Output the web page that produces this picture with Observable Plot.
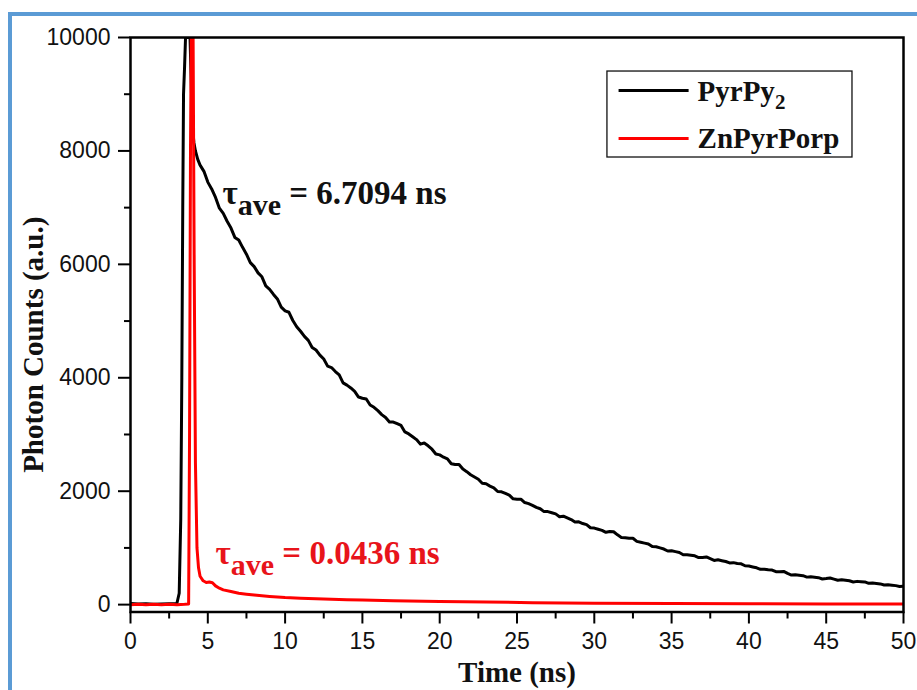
<!DOCTYPE html>
<html><head><meta charset="utf-8">
<script src="https://cdn.jsdelivr.net/npm/d3@7"></script>
<script src="https://cdn.jsdelivr.net/npm/@observablehq/plot@0.6"></script>
<style>
body{margin:0;background:#fff;}
#wrap{position:relative;width:917px;height:690px;overflow:hidden;}
#border{position:absolute;left:8px;top:12px;width:2000px;height:2000px;border-top:4px solid #5b9bd5;border-left:4px solid #5b9bd5;pointer-events:none;z-index:2;}
</style></head><body><div id="wrap"></div>
<script>
// ---- data ----
const seriesNames = ["PyrPy_{2}", "ZnPyrPorp"];
const seriesColors = ["#000000", "#ff0000"];

const timePyrPy2 = [0,0.5,1,1.5,2,2.5,3,3.15,3.25,3.32,3.38,3.43,3.5,3.56,3.7,3.85,3.92,3.97,4.02,4.1,4.2,4.35,4.5,4.75,
5,5.25,5.5,5.75,6,6.25,6.5,6.75,7,7.25,7.5,7.75,8,8.25,8.5,8.75,9,9.25,9.5,9.75,
10,10.25,10.5,10.75,11,11.25,11.5,11.75,12,12.25,12.5,12.75,13,13.25,13.5,13.75,14,14.25,14.5,14.75,
15,15.25,15.5,15.75,16,16.25,16.5,16.75,17,17.25,17.5,17.75,18,18.25,18.5,18.75,19,19.25,19.5,19.75,
20,20.25,20.5,20.75,21,21.25,21.5,21.75,22,22.25,22.5,22.75,23,23.25,23.5,23.75,24,24.25,24.5,24.75,
25,25.25,25.5,25.75,26,26.25,26.5,26.75,27,27.25,27.5,27.75,28,28.25,28.5,28.75,29,29.25,29.5,29.75,
30,30.25,30.5,30.75,31,31.25,31.5,31.75,32,32.25,32.5,32.75,33,33.25,33.5,33.75,34,34.25,34.5,34.75,
35,35.25,35.5,35.75,36,36.25,36.5,36.75,37,37.25,37.5,37.75,38,38.25,38.5,38.75,39,39.25,39.5,39.75,
40,40.25,40.5,40.75,41,41.25,41.5,41.75,42,42.25,42.5,42.75,43,43.25,43.5,43.75,44,44.25,44.5,44.75,
45,45.25,45.5,45.75,46,46.25,46.5,46.75,47,47.25,47.5,47.75,48,48.25,48.5,48.75,49,49.25,49.5,49.75,50];
const countsPyrPy2 = [20,10,15,5,10,15,20,200,1500,4000,7000,9000,9500,10000,10000,10000,9300,8700,8400,8150,8000,7850,7750,7640,
7450,7330,7180,6990,6900,6760,6640,6475,6430,6300,6180,6030,5960,5850,5780,5620,5560,5470,5390,5245,
5180,5155,5010,4900,4820,4730,4660,4535,4490,4400,4330,4205,4180,4110,4050,3910,3870,3820,3760,3660,
3640,3625,3520,3480,3420,3350,3300,3220,3220,3190,3160,3045,3010,2960,2910,2830,2850,2800,2740,2655,
2640,2600,2570,2485,2470,2470,2390,2345,2290,2250,2210,2140,2130,2090,2060,1995,1990,1960,1930,1865,
1860,1860,1800,1780,1750,1715,1690,1640,1640,1620,1600,1550,1560,1530,1500,1455,1460,1430,1410,1355,
1350,1330,1310,1275,1290,1285,1230,1185,1180,1170,1170,1115,1100,1085,1070,1025,1020,1000,980,945,
950,935,920,880,880,870,860,830,830,840,810,780,790,775,760,735,740,725,720,685,
680,665,650,622,625,615,610,580,580,585,550,522,525,517,510,485,490,482,475,452,
460,470,450,430,440,430,420,400,410,405,400,375,380,372,365,345,350,342,335,320,325];

const timeZnPyrPorp = [0,0.5,1,1.5,2,2.5,3,3.5,3.76,3.82,3.88,3.93,4.05,4.12,4.2,4.3,4.4,4.5,4.7,4.9,5.1,5.3,5.5,5.75,6,6.5,7,7.5,8,9,10,11,12,13,14,15,17,20,23,26,30,35,40,45,50];
const countsZnPyrPorp = [0,5,0,5,0,5,0,5,10,3000,8000,10000,10000,6000,2500,1000,650,500,420,390,400,385,330,290,260,230,200,185,170,145,125,112,102,95,88,80,70,55,45,35,25,18,15,12,12];

const xMajor = [0,5,10,15,20,25,30,35,40,45,50];
const xMinor = [2.5,7.5,12.5,17.5,22.5,27.5,32.5,37.5,42.5,47.5];
const yMajor = [0,2000,4000,6000,8000,10000];
const yMinor = [1000,3000,5000,7000,9000];

const annotTexts = ["τ_{ave} = 6.7094 ns", "τ_{ave} = 0.0436 ns"];
const annotColors = ["#111111", "#e8141b"];
const axisTitleX = "Time (ns)";
const axisTitleY = "Photon Counts (a.u.)";

// ---- layout (not data) ----
const annotPos = [{x: 5.95, y: 7072}, {x: 5.5, y: 723}];
const legendBox = {x1: 30.85, x2: 46.7, y1: 7884, y2: 9400};
const legendRows = [{y: 9065, ty: 8889}, {y: 8219, ty: 8060}];
const legendLine = {x1: 31.57, x2: 36.1, tx: 36.68};
const subStyle = {"ave": [30, 11], "2": [21, 8]};

const black = timePyrPy2.map((t, i) => ({t, c: countsPyrPy2[i]}));
const red = timeZnPyrPorp.map((t, i) => ({t, c: countsZnPyrPorp[i]}));
const annots = annotTexts.map((s, i) => ({...annotPos[i], s, col: annotColors[i]}));
const legend = seriesNames.map((n, i) => ({n, col: seriesColors[i], ...legendRows[i]}));

const serif = "'Liberation Serif', 'Times New Roman', serif";
const sans = "'Liberation Sans', Arial, sans-serif";

const chart = Plot.plot({
  width: 917, height: 690,
  marginLeft: 130, marginRight: 14, marginTop: 37, marginBottom: 78.5,
  style: {fontFamily: sans, fontSize: "23px", color: "#111", background: "white"},
  x: {domain: [0, 50]},
  y: {domain: [-130, 10000]},
  marks: [
    Plot.axisX({ticks: xMajor, tickSize: 12, tickPadding: 9, tickFormat: d => String(d), stroke: "black", strokeWidth: 2, fontSize: 23, fontFamily: sans, label: null}),
    Plot.axisX({ticks: xMinor, tickSize: 7, tickFormat: () => "", stroke: "black", strokeWidth: 2, label: null}),
    Plot.axisY({ticks: yMajor, tickSize: 12, tickPadding: 8, tickFormat: d => String(d), stroke: "black", strokeWidth: 2, fontSize: 23, fontFamily: sans, label: null}),
    Plot.axisY({ticks: yMinor, tickSize: 6, tickFormat: () => "", stroke: "black", strokeWidth: 2, label: null}),
    Plot.line(black, {x: "t", y: "c", stroke: seriesColors[0], strokeWidth: 3, clip: true}),
    Plot.line(red, {x: "t", y: "c", stroke: seriesColors[1], strokeWidth: 3, clip: true}),
    Plot.frame({stroke: "black", strokeWidth: 2.5}),
    // legend
    Plot.rect([legendBox], {x1: "x1", x2: "x2", y1: "y1", y2: "y2", fill: "white", stroke: "#111", strokeWidth: 1.3}),
    Plot.link(legend, {x1: () => legendLine.x1, x2: () => legendLine.x2, y1: "y", y2: "y", stroke: "col", strokeWidth: 3}),
    Plot.text(legend, {x: () => legendLine.tx, y: "ty", text: "n", textAnchor: "start", lineAnchor: "bottom", fill: "#111", fontFamily: serif, fontWeight: "bold", fontSize: 29}),
    // annotations
    Plot.text(annots, {x: "x", y: "y", text: "s", fill: "col", textAnchor: "start", lineAnchor: "bottom", fontFamily: serif, fontWeight: "bold", fontSize: 33}),
    // axis titles
    Plot.text([axisTitleX], {text: d => d, frameAnchor: "bottom", dy: 69.5, textAnchor: "middle", lineAnchor: "bottom", fill: "#111", fontFamily: serif, fontWeight: "bold", fontSize: 29}),
    Plot.text([axisTitleY], {text: d => d, frameAnchor: "left", rotate: -90, dx: -88, dy: 20, textAnchor: "middle", lineAnchor: "bottom", fill: "#111", fontFamily: serif, fontWeight: "bold", fontSize: 29})
  ]
});

// subscripts
chart.querySelectorAll("text").forEach(t => {
  const s = t.textContent;
  if (!s.includes("_{")) return;
  const parts = s.split(/(_\{[^}]*\})/);
  t.textContent = "";
  let shifted = 0;
  parts.forEach(p => {
    if (!p) return;
    const ts = document.createElementNS("http://www.w3.org/2000/svg", "tspan");
    if (p.startsWith("_{")) {
      const sub = p.slice(2, -1);
      const [fs, sh] = subStyle[sub] || [20, 8];
      ts.textContent = sub;
      ts.setAttribute("font-size", fs);
      ts.setAttribute("dy", sh - shifted);
      shifted = sh;
    } else {
      ts.textContent = p;
      if (shifted) { ts.setAttribute("dy", -shifted); shifted = 0; }
    }
    t.appendChild(ts);
  });
  t.style.whiteSpace = "pre";
});

const wrap = document.getElementById("wrap");
wrap.appendChild(chart);
const border = document.createElement("div");
border.id = "border";
wrap.appendChild(border);
</script>
</body></html>
